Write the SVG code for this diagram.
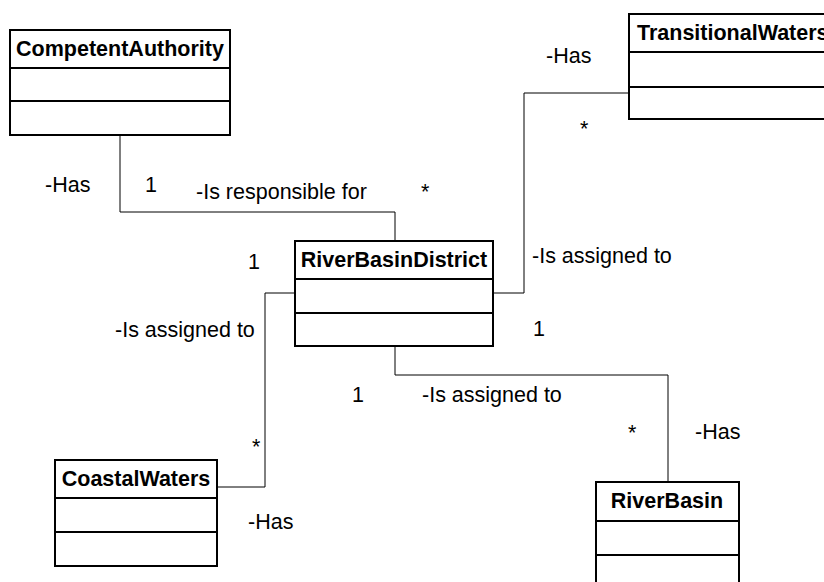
<svg xmlns="http://www.w3.org/2000/svg" width="824" height="582" viewBox="0 0 824 582">
<style>
.box{fill:#fff;stroke:#000;stroke-width:2}
.sep{stroke:#000;stroke-width:2}
.title{font-family:"Liberation Sans",Arial,sans-serif;font-size:21.5px;font-weight:bold;fill:#000}
.lbl{font-family:"Liberation Sans",Arial,sans-serif;font-size:21.5px;fill:#000}
.conn{fill:none;stroke:#000;stroke-width:1}
</style>
<rect width="824" height="582" fill="#fff"/>
<g id="connectors">
<path class="conn" d="M120 135 V212 H395 V241"/>
<path class="conn" d="M493 293 H524 V93 H629"/>
<path class="conn" d="M295 293 H265 V487 H217"/>
<path class="conn" d="M395 346 V375 H668 V482"/>
</g>
<g id="CompetentAuthority">
<rect class="box" x="10" y="30" width="220" height="105"/>
<line class="sep" x1="10" y1="68" x2="230" y2="68"/>
<line class="sep" x1="10" y1="101" x2="230" y2="101"/>
<text class="title" x="120" y="56" text-anchor="middle">CompetentAuthority</text>
</g>
<g id="TransitionalWaters">
<rect class="box" x="629" y="14" width="220" height="105"/>
<line class="sep" x1="629" y1="52" x2="849" y2="52"/>
<line class="sep" x1="629" y1="87" x2="849" y2="87"/>
<text class="title" x="637" y="40">TransitionalWaters</text>
</g>
<g id="RiverBasinDistrict">
<rect class="box" x="295" y="241" width="198" height="105"/>
<line class="sep" x1="295" y1="279" x2="493" y2="279"/>
<line class="sep" x1="295" y1="313" x2="493" y2="313"/>
<text class="title" x="394" y="267" text-anchor="middle">RiverBasinDistrict</text>
</g>
<g id="CoastalWaters">
<rect class="box" x="55" y="460" width="162" height="106"/>
<line class="sep" x1="55" y1="498" x2="217" y2="498"/>
<line class="sep" x1="55" y1="532" x2="217" y2="532"/>
<text class="title" x="136" y="486" text-anchor="middle">CoastalWaters</text>
</g>
<g id="RiverBasin">
<rect class="box" x="596" y="482" width="143" height="120"/>
<line class="sep" x1="596" y1="521" x2="739" y2="521"/>
<line class="sep" x1="596" y1="555" x2="739" y2="555"/>
<text class="title" x="667" y="508" text-anchor="middle">RiverBasin</text>
</g>
<g id="labels">
<text class="lbl" x="45" y="192">-Has</text>
<text class="lbl" x="145" y="192">1</text>
<text class="lbl" x="196" y="199">-Is responsible for</text>
<text class="lbl" x="421" y="199">*</text>
<text class="lbl" x="248" y="269">1</text>
<text class="lbl" x="115" y="337">-Is assigned to</text>
<text class="lbl" x="532" y="263">-Is assigned to</text>
<text class="lbl" x="546" y="63">-Has</text>
<text class="lbl" x="580" y="136">*</text>
<text class="lbl" x="533" y="336">1</text>
<text class="lbl" x="352" y="402">1</text>
<text class="lbl" x="422" y="402">-Is assigned to</text>
<text class="lbl" x="628" y="440">*</text>
<text class="lbl" x="695" y="439">-Has</text>
<text class="lbl" x="252" y="454">*</text>
<text class="lbl" x="248" y="529">-Has</text>
</g>
</svg>
